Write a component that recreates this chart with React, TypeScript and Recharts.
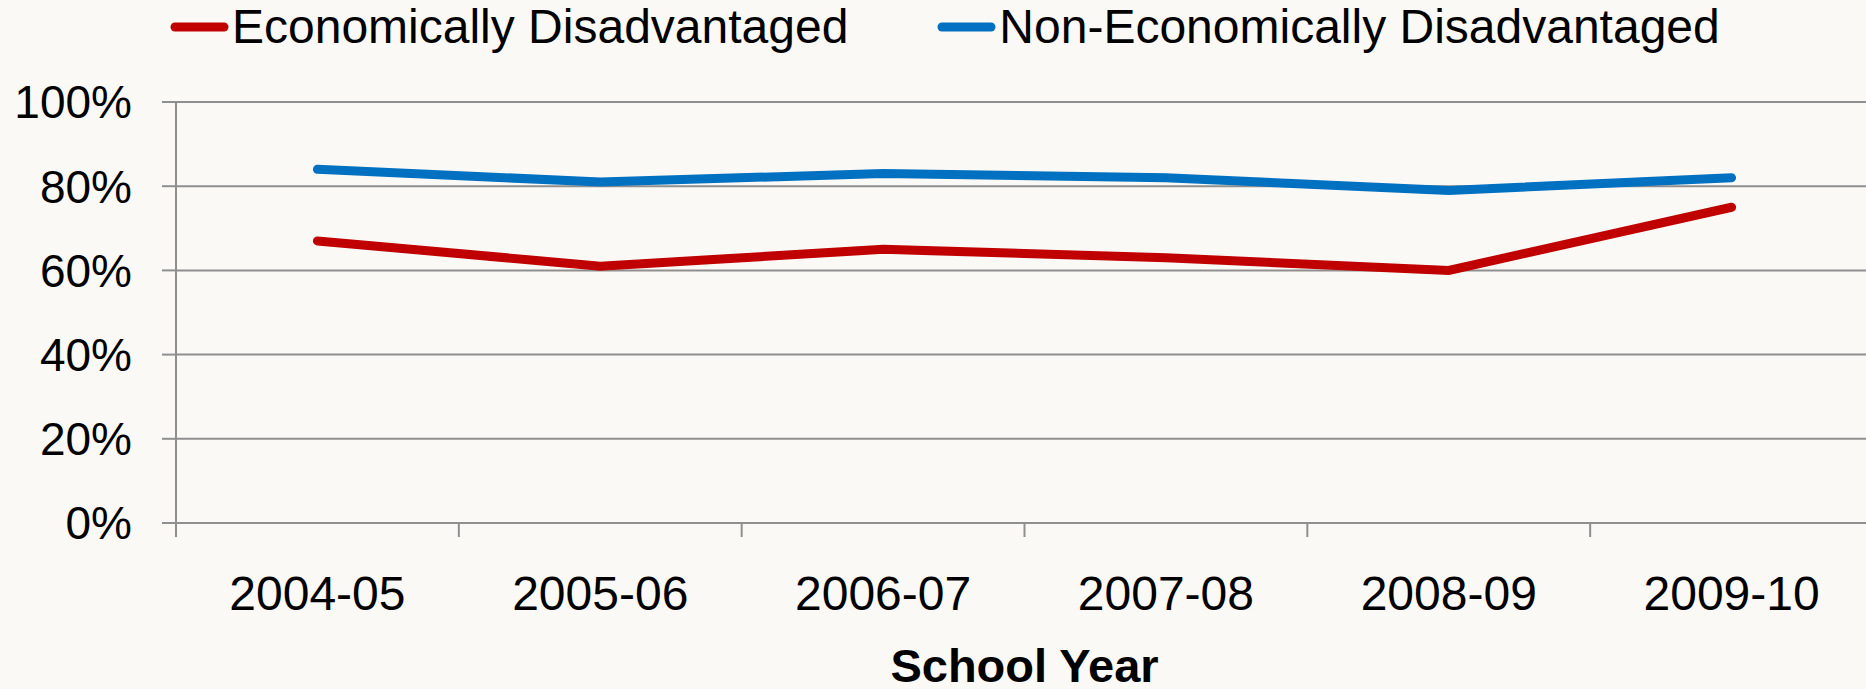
import { LineChart, Line, XAxis, YAxis, CartesianGrid, Legend } from "recharts";

const schoolYears = ["2004-05", "2005-06", "2006-07", "2007-08", "2008-09", "2009-10"];
const econDisadvantaged = [67, 61, 65, 63, 60, 75];
const nonEconDisadvantaged = [84, 81, 83, 82, 79, 82];
const yTicks = [0, 20, 40, 60, 80, 100];

const RED = "#C00000";
const BLUE = "#0070C0";
const GRID = "#8f8f8f";
const FONT = "'Liberation Sans', Arial, sans-serif";

// points sit in the middle of each year band
const data = schoolYears.map((year, i) => ({
  pos: i + 0.5,
  year,
  econ: econDisadvantaged[i],
  nonEcon: nonEconDisadvantaged[i],
}));

const xTicks: number[] = [];
for (let i = 0; i <= schoolYears.length; i++) {
  xTicks.push(i);
  if (i < schoolYears.length) xTicks.push(i + 0.5);
}

function YearTick(props: any) {
  const { x, y, payload } = props;
  const v = payload.value as number;
  if (Number.isInteger(v)) {
    return <line x1={x} x2={x} y1={y} y2={y + 14} stroke={GRID} strokeWidth={2} />;
  }
  return (
    <text x={x} y={y + 87} textAnchor="middle" fontSize={48} fontFamily={FONT} fill="#000">
      {schoolYears[Math.floor(v)]}
    </text>
  );
}

function renderLegend() {
  const items = [
    { name: "Economically Disadvantaged", color: RED },
    { name: "Non-Economically Disadvantaged", color: BLUE },
  ];
  return (
    <div style={{ height: 102 }}>
      <div style={{ display: "flex", alignItems: "center", height: 54, paddingLeft: 170 }}>
        {items.map((it, i) => (
          <div key={it.name} style={{ display: "flex", alignItems: "center", marginRight: i === 0 ? 89 : 0 }}>
            <svg width={59} height={12} style={{ marginRight: 3 }}>
              <line x1={5} x2={54} y1={6} y2={6} stroke={it.color} strokeWidth={9} strokeLinecap="round" />
            </svg>
            <span style={{ fontFamily: FONT, fontSize: 48, color: "#000", lineHeight: "54px", whiteSpace: "nowrap" }}>
              {it.name}
            </span>
          </div>
        ))}
      </div>
    </div>
  );
}

export default function App() {
  return (
    <div style={{ position: "absolute", left: 0, top: 0, width: 1866, height: 689, background: "#FAF9F5", overflow: "hidden" }}>
      <LineChart width={1866} height={689} data={data} margin={{ top: 0, right: -7, bottom: 0, left: 0 }}>
        <Legend verticalAlign="top" align="left" content={renderLegend} wrapperStyle={{ top: 0, left: 0 }} />
        <CartesianGrid vertical={false} stroke={GRID} strokeWidth={2} />
        <XAxis
          dataKey="pos"
          type="number"
          domain={[0, schoolYears.length]}
          ticks={xTicks}
          interval={0}
          tick={<YearTick />}
          tickLine={false}
          tickSize={0}
          tickMargin={0}
          axisLine={{ stroke: GRID, strokeWidth: 2 }}
          height={166}
          label={{
            value: "School Year",
            position: "insideBottom",
            offset: 7,
            fontSize: 47,
            fontWeight: "bold",
            fontFamily: FONT,
            fill: "#000",
          }}
        />
        <YAxis
          width={176}
          domain={[0, 100]}
          ticks={yTicks}
          tickFormatter={(v) => `${v}%`}
          tickSize={14}
          tickMargin={30}
          tickLine={{ stroke: GRID, strokeWidth: 2 }}
          axisLine={{ stroke: GRID, strokeWidth: 2 }}
          tick={{ fontSize: 46, fontFamily: FONT, fill: "#000" }}
        />
        <Line
          type="linear"
          dataKey="econ"
          name="Economically Disadvantaged"
          stroke={RED}
          strokeWidth={9}
          strokeLinecap="round"
          dot={false}
          isAnimationActive={false}
        />
        <Line
          type="linear"
          dataKey="nonEcon"
          name="Non-Economically Disadvantaged"
          stroke={BLUE}
          strokeWidth={9}
          strokeLinecap="round"
          dot={false}
          isAnimationActive={false}
        />
      </LineChart>
    </div>
  );
}
